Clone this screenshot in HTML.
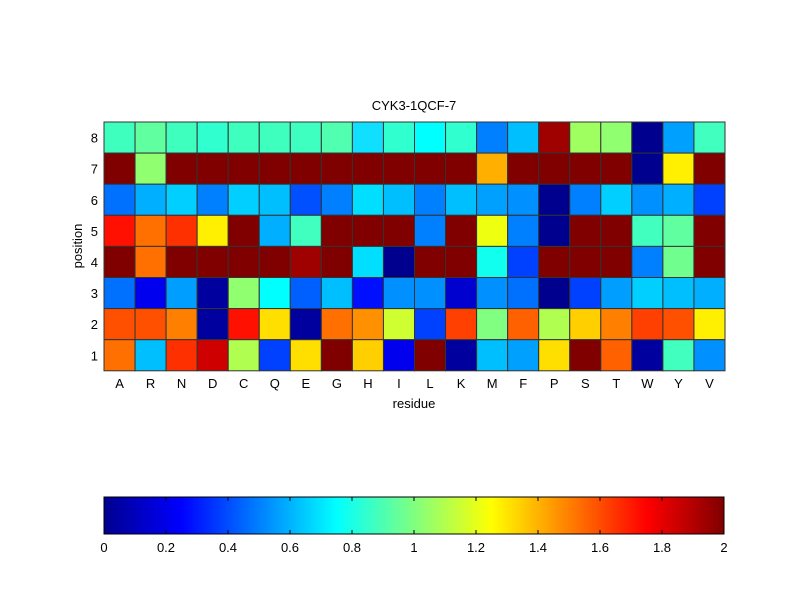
<!DOCTYPE html>
<html><head><style>body{margin:0;background:#fff}svg text{font-family:"Liberation Sans",sans-serif;font-size:13px;fill:#000}</style></head>
<body>
<svg width="800" height="600" xmlns="http://www.w3.org/2000/svg">
<defs><linearGradient id="jet" x1="0" x2="1" y1="0" y2="0">
<stop offset="0" stop-color="#00008f"/><stop offset="0.125" stop-color="#0000ff"/><stop offset="0.375" stop-color="#00ffff"/><stop offset="0.625" stop-color="#ffff00"/><stop offset="0.875" stop-color="#ff0000"/><stop offset="1" stop-color="#800000"/></linearGradient></defs>
<g id="cells" stroke="#333" stroke-width="1"></g>
<text x="414" y="110" text-anchor="middle">CYK3-1QCF-7</text>
<g id="lbl"></g>
<text x="414" y="408" text-anchor="middle">residue</text>
<text transform="translate(82,246) rotate(-90)" text-anchor="middle">position</text>
<rect x="104" y="497" width="620" height="37" fill="url(#jet)" stroke="#000"/>
<g id="cb"></g>
</svg>
<script>
const rows=[
["#3fffbf","#60ff9f","#3fffbf","#30ffd0","#3fffbf","#3fffbf","#3fffc0","#50ffaf","#10dfff","#30ffcf","#00ffff","#30ffcf","#0080ff","#00bfff","#9f0000","#9fff60","#90ff70","#00008f","#00a0ff","#40ffbf"],
["#800000","#90ff70","#800000","#800000","#800000","#800000","#800000","#800000","#800000","#800000","#800000","#800000","#ffaf00","#800000","#800000","#800000","#800000","#00008f","#ffef00","#800000"],
["#0070ff","#00afff","#00cfff","#0080ff","#00cfff","#00bfff","#0050ff","#0080ff","#00dfff","#00bfff","#0080ff","#00bfff","#00a0ff","#0090ff","#00008f","#0080ff","#00cfff","#0090ff","#00afff","#0040ff"],
["#ff1000","#ff7000","#ff3000","#ffef00","#800000","#00afff","#40ffbf","#800000","#800000","#800000","#0080ff","#800000","#efff10","#0080ff","#00008f","#800000","#800000","#40ffbf","#60ff9f","#800000"],
["#800000","#ff7000","#800000","#800000","#800000","#800000","#9f0000","#800000","#00dfff","#00008f","#800000","#800000","#10ffef","#0040ff","#800000","#800000","#800000","#0080ff","#70ff8f","#800000"],
["#0070ff","#0000ef","#009fff","#00009f","#90ff70","#00ffff","#0060ff","#00bfff","#0010ff","#0090ff","#0090ff","#0000cf","#0090ff","#0070ff","#00008f","#0040ff","#009fff","#00cfff","#00bfff","#00afff"],
["#ff5000","#ff5000","#ff8000","#00009f","#ff1000","#ffdf00","#00009f","#ff7000","#ff9000","#cfff30","#0040ff","#ff4000","#80ff80","#ff6000","#b0ff50","#ffcf00","#ff8000","#ff4000","#ff5000","#ffef00"],
["#ff7000","#00bfff","#ff3000","#cf0000","#b0ff50","#0040ff","#ffdf00","#800000","#ffcf00","#0000ef","#800000","#00009f","#00bfff","#00a0ff","#ffdf00","#800000","#ff6000","#00009f","#40ffbf","#0090ff"]];
const ns="http://www.w3.org/2000/svg";
const X0=104,Y0=122,W=31.05,H=31.1;
let g=document.getElementById("cells"),l=document.getElementById("lbl");
function el(p,t,a,txt){let e=document.createElementNS(ns,t);for(let k in a)e.setAttribute(k,a[k]);if(txt!==undefined)e.textContent=txt;p.appendChild(e);return e;}
rows.forEach((r,i)=>r.forEach((c,j)=>el(g,"rect",{x:X0+j*W,y:Y0+i*H,width:W,height:H,fill:c})));
"ARNDCQEGHILKMFPSTWYV".split("").forEach((c,j)=>el(l,"text",{x:X0+(j+.5)*W,y:388,"text-anchor":"middle"},c));
for(let i=0;i<8;i++)el(l,"text",{x:98,y:Y0+(i+.5)*H+5,"text-anchor":"end"},String(8-i));
let cb=document.getElementById("cb");
const labs=["0","0.2","0.4","0.6","0.8","1","1.2","1.4","1.6","1.8","2"];
for(let k=0;k<=10;k++){let x=104+k*62;el(cb,"line",{x1:x,x2:x,y1:534,y2:530,stroke:"#000"});el(cb,"line",{x1:x,x2:x,y1:497,y2:501,stroke:"#000"});el(cb,"text",{x:x,y:552,"text-anchor":"middle"},labs[k]);}
</script>
</body></html>
